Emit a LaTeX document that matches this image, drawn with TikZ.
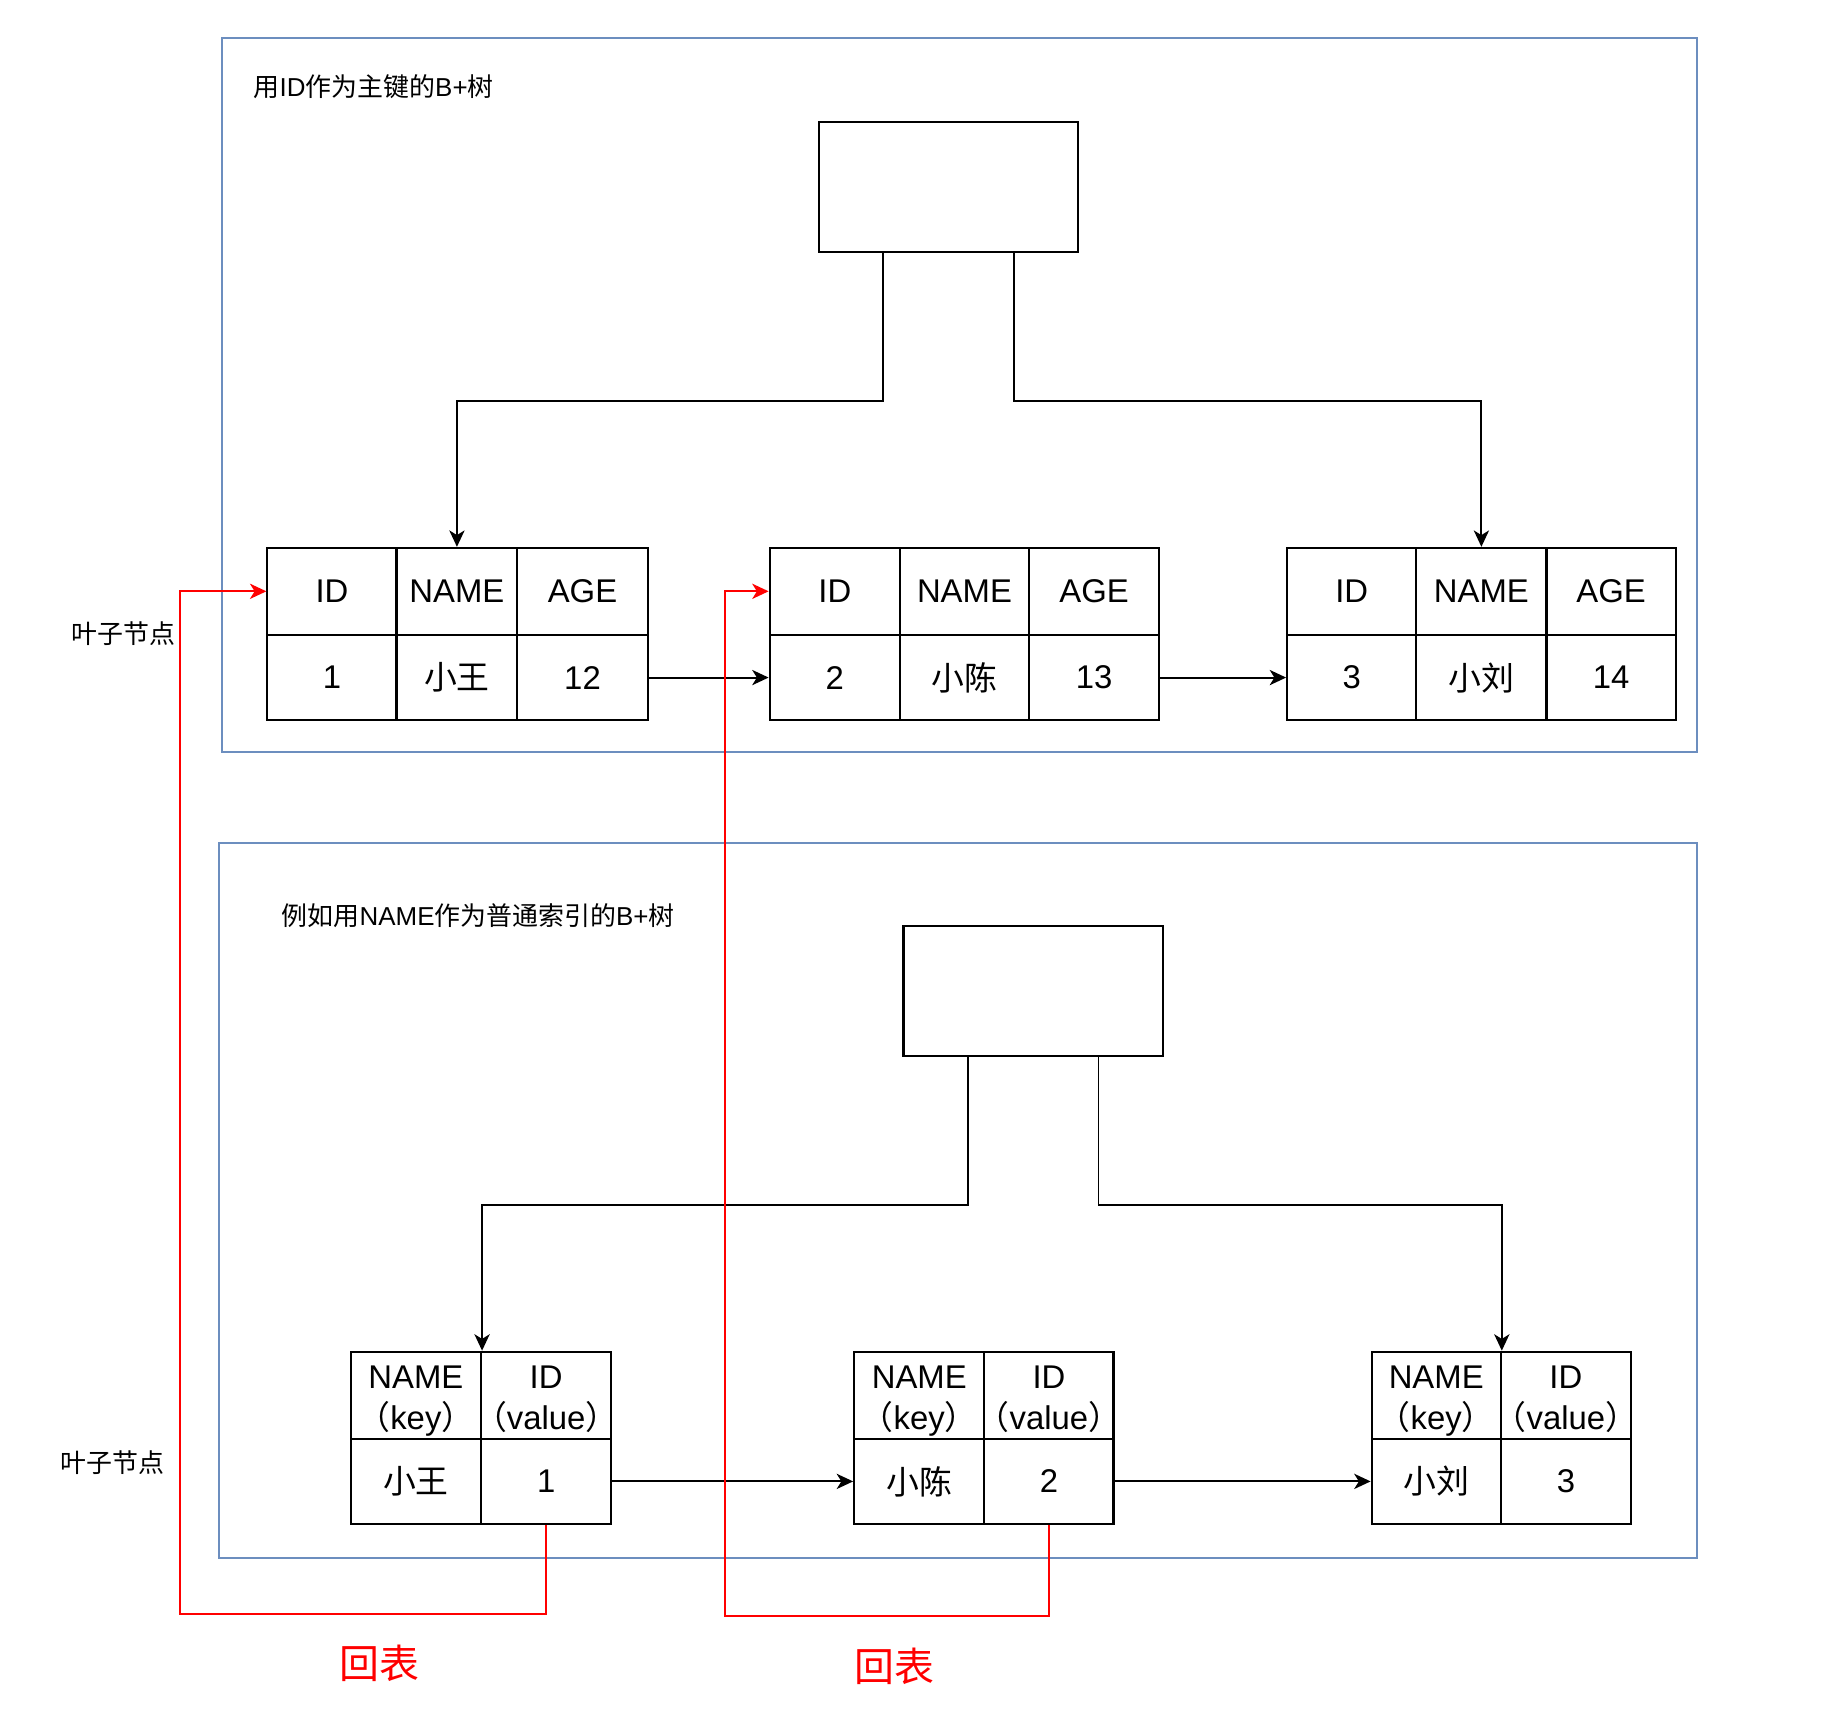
\documentclass[tikz,border=0pt]{standalone}
\usepackage{fontspec}
\setmainfont{Liberation Sans}
\newfontfamily\cjk{Noto Sans CJK SC}
\usetikzlibrary{arrows.meta,calc}
\definecolor{boxblue}{HTML}{6C8EBF}
\definecolor{backred}{HTML}{FF0000}
\begin{document}
\begin{tikzpicture}[x=1pt,y=-1pt,
  cell/.style={draw,line width=1.8pt,minimum height=74pt,inner sep=0pt,anchor=north west,
    font=\fontsize{28}{35}\selectfont},
  low/.style={minimum height=73pt},
  rootbox/.style={draw,line width=1.8pt,minimum width=221pt,minimum height=111pt,inner sep=0pt,anchor=north west},
  frame/.style={draw=boxblue,line width=1.7pt},
  conn/.style={line width=1.7pt,-{Stealth[length=14pt,width=13pt,inset=4pt]}},
  redconn/.style={draw=backred,line width=1.7pt,-{Stealth[length=14pt,width=13pt,inset=4pt]},color=backred},
  lbl/.style={inner sep=0pt,font=\fontsize{22.1}{27}\selectfont},
  redlbl/.style={inner sep=0pt,text=backred,font=\fontsize{34}{40}\selectfont}
]
\useasboundingbox (0,0) rectangle (1568,1461);

% outer frames
\draw[frame] (189,32) rectangle (1446,641);
\draw[frame] (187,718) rectangle (1446,1328);

% titles and labels
\node[lbl,anchor=west] (t1) at (216,74) {{\cjk 用}ID{\cjk 作为主键的}B+{\cjk 树}};
\node[lbl,anchor=west] (t2) at (240,780) {{\cjk 例如用}NAME{\cjk 作为普通索引的}B+{\cjk 树}};
\node[lbl] (leaf1) at (105,540) {\cjk 叶子节点};
\node[lbl] (leaf2) at (95.5,1246) {\cjk 叶子节点};
\node[redlbl] (hb1) at (323.5,1417) {\cjk 回表};
\node[redlbl] (hb2) at (762,1420) {\cjk 回表};

% ---------- top tree ----------
\node[rootbox] (r1) at (697,103) {};

% left table
\node[cell,minimum width=110pt] (a1) at (227,466) {ID};
\node[cell,minimum width=103pt] (a2) at (337,466) {NAME};
\node[cell,minimum width=111pt] (a3) at (440,466) {AGE};
\node[cell,low,minimum width=110pt] (a4) at (227,540) {1};
\node[cell,low,minimum width=103pt] (a5) at (337,540) {\cjk 小王};
\node[cell,low,minimum width=111pt] (a6) at (440,540) {12};
% middle table
\node[cell,minimum width=111pt] (b1) at (655,466) {ID};
\node[cell,minimum width=110pt] (b2) at (766,466) {NAME};
\node[cell,minimum width=111pt] (b3) at (876,466) {AGE};
\node[cell,low,minimum width=111pt] (b4) at (655,540) {2};
\node[cell,low,minimum width=110pt] (b5) at (766,540) {\cjk 小陈};
\node[cell,low,minimum width=111pt] (b6) at (876,540) {13};
% right table
\node[cell,minimum width=110pt] (c1) at (1096,466) {ID};
\node[cell,minimum width=111pt] (c2) at (1206,466) {NAME};
\node[cell,minimum width=110pt] (c3) at (1317,466) {AGE};
\node[cell,low,minimum width=110pt] (c4) at (1096,540) {3};
\node[cell,low,minimum width=111pt] (c5) at (1206,540) {\cjk 小刘};
\node[cell,low,minimum width=110pt] (c6) at (1317,540) {14};

\draw[conn] ($(r1.south west)!0.25!(r1.south east)$) -- ++(0,126) -| (a2.north);
\draw[conn] ($(r1.south west)!0.75!(r1.south east)$) -- ++(0,126) -| (c2.north);
\draw[conn] (a6.east) -- (b4.west);
\draw[conn] (b6.east) -- (c4.west);

% ---------- bottom tree ----------
\node[rootbox] (r2) at (769,788) {};

\newcommand{\namekey}{\makebox[0pt]{\raisebox{-11pt}[0pt][0pt]{\begin{tabular}{@{}c@{}}NAME\\{\cjk （}key{\cjk ）}\end{tabular}}}}
\newcommand{\idvalue}{\makebox[0pt]{\raisebox{-11pt}[0pt][0pt]{\begin{tabular}{@{}c@{}}ID\\{\cjk （}value{\cjk ）}\end{tabular}}}}

% left table
\node[cell,minimum width=111pt] (e1) at (298,1151) {\namekey};
\node[cell,minimum width=111pt] (e2) at (409,1151) {\idvalue};
\node[cell,low,minimum width=111pt] (e3) at (298,1225) {\cjk 小王};
\node[cell,low,minimum width=111pt] (e4) at (409,1225) {1};
% middle table
\node[cell,minimum width=111pt] (f1) at (727,1151) {\namekey};
\node[cell,minimum width=110pt] (f2) at (838,1151) {\idvalue};
\node[cell,low,minimum width=111pt] (f3) at (727,1225) {\cjk 小陈};
\node[cell,low,minimum width=110pt] (f4) at (838,1225) {2};
% right table
\node[cell,minimum width=110pt] (g1) at (1168,1151) {\namekey};
\node[cell,minimum width=111pt] (g2) at (1278,1151) {\idvalue};
\node[cell,low,minimum width=110pt] (g3) at (1168,1225) {\cjk 小刘};
\node[cell,low,minimum width=111pt] (g4) at (1278,1225) {3};

\draw[conn] ($(r2.south west)!0.25!(r2.south east)$) -- ++(0,126) -| (e1.north east);
\draw[conn] ($(r2.south west)!0.75!(r2.south east)$) -- ++(0,126) -| (g1.north east);
\draw[conn] (e4.east) -- (f3.west);
\draw[conn] (f4.east) -- (g3.west);

% ---------- back-to-table (red) ----------
\coordinate (k1) at (153,1375);
\coordinate (k2) at (618,1377);
\draw[redconn] (e4.south) |- (k1) |- (a1.west);
\draw[redconn] (f4.south) |- (k2) |- (b1.west);
\end{tikzpicture}
\end{document}
